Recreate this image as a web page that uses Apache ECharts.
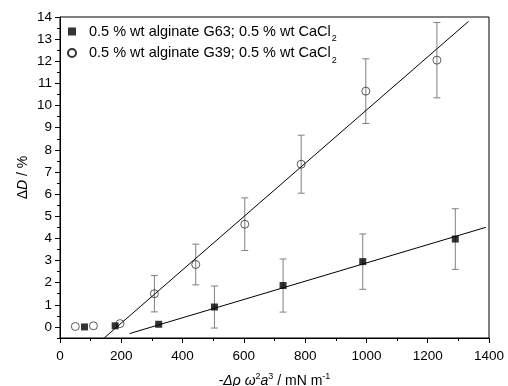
<!DOCTYPE html>
<html>
<head>
<meta charset="utf-8">
<script src="https://cdn.jsdelivr.net/npm/echarts@6/dist/echarts.min.js"></script>
<style>html,body{margin:0;padding:0;background:#fff;}#c{width:508px;height:386px;}</style>
</head>
<body>
<div id="c"></div>
<script>
// ---- data ----
const xG63 = [80, 180, 322, 504, 728, 988, 1290];
const yG63 = [0, 0.05, 0.12, 0.9, 1.87, 2.95, 3.97];
const errG63 = [0, 0, 0, 0.95, 1.2, 1.25, 1.37];

const xG39 = [50, 109, 196, 308, 443, 603, 787, 998, 1230];
const yG39 = [0.02, 0.05, 0.15, 1.5, 2.82, 4.64, 7.35, 10.65, 12.05];
const errG39 = [0, 0, 0, 0.82, 0.92, 1.19, 1.31, 1.46, 1.7];

// fitted straight lines (end points, data units)
const fitG39X = [144, 1333];
const fitG39Y = [-0.5, 13.8];
const fitG63X = [227, 1390];
const fitG63Y = [-0.3, 4.5];

const yTickValues = [0,1,2,3,4,5,6,7,8,9,10,11,12,13,14];
const nameG63 = 'G63';
const nameG39 = 'G39';
const legendText = {
  G63: '0.5 % wt alginate G63; 0.5 % wt CaCl',
  G39: '0.5 % wt alginate G39; 0.5 % wt CaCl'
};

const FONT = '"Liberation Sans", Arial, sans-serif';

function pairs(xs, ys) { return xs.map((x, i) => [x, ys[i]]); }
function errData(xs, ys, es) { return xs.map((x, i) => [x, ys[i] - es[i], ys[i] + es[i]]).filter((d, i) => es[i] > 0); }

function errRender(params, api) {
  const x = api.value(0);
  const lo = api.coord([x, api.value(1)]);
  const hi = api.coord([x, api.value(2)]);
  const cw = 3.5;
  const st = { stroke: '#808080', lineWidth: 1 };
  return {
    type: 'group',
    children: [
      { type: 'line', shape: { x1: lo[0], y1: lo[1], x2: hi[0], y2: hi[1] }, style: st },
      { type: 'line', shape: { x1: lo[0] - cw, y1: lo[1], x2: lo[0] + cw, y2: lo[1] }, style: st },
      { type: 'line', shape: { x1: hi[0] - cw, y1: hi[1], x2: hi[0] + cw, y2: hi[1] }, style: st }
    ]
  };
}

const chart = echarts.init(document.getElementById('c'), null, { renderer: 'canvas' });
chart.setOption({
  animation: false,
  backgroundColor: '#fff',
  textStyle: { fontFamily: FONT, color: '#000' },
  grid: { left: 60, right: 19, top: 17, bottom: 48, outerBoundsMode: 'none', containLabel: false, show: true, borderColor: '#000', borderWidth: 1, backgroundColor: 'transparent' },
  legend: {
    orient: 'vertical',
    left: 67,
    top: 24,
    padding: 0,
    itemWidth: 8,
    itemHeight: 8,
    itemGap: 2,
    data: [{ name: nameG63, icon: 'rect' }, { name: nameG39, icon: 'circle' }],
    formatter: function (n) { return '{t|' + legendText[n] + '}{s|2}'; },
    textStyle: {
      fontFamily: FONT,
      color: '#000',
      padding: [0, 0, 0, 8],
      rich: {
        t: { fontSize: 14.5, fontFamily: FONT, color: '#000', lineHeight: 16 },
        s: { fontSize: 9, fontFamily: FONT, color: '#000', verticalAlign: 'bottom', lineHeight: 12, padding: [0, 0, -4, 1] }
      }
    }
  },
  xAxis: {
    type: 'value',
    min: 0, max: 1400, interval: 200,
    splitLine: { show: false },
    axisLine: { show: true, onZero: false, lineStyle: { color: '#000', width: 1 } },
    axisTick: { show: true, length: 5, lineStyle: { color: '#000' } },
    minorTick: { show: true, splitNumber: 2, length: 3, lineStyle: { color: '#000' } },
    axisLabel: { color: '#000', fontSize: 13.5, fontFamily: FONT, margin: 11, formatter: function (v) { return String(v); } },
    name: '{n|-}{i|Δρ ω}{p|2}{i|a}{p|3}{n| / mN m}{p|-1}',
    nameLocation: 'middle',
    nameGap: 34,
    nameMoveOverlap: false,
    nameTextStyle: {
      rich: {
        n: { fontSize: 14, fontFamily: FONT, color: '#000', lineHeight: 18 },
        i: { fontSize: 14, fontFamily: FONT, color: '#000', fontStyle: 'italic', lineHeight: 18 },
        p: { fontSize: 9, fontFamily: FONT, color: '#000', verticalAlign: 'top', lineHeight: 6 }
      }
    }
  },
  yAxis: [{
    type: 'value',
    min: -0.5, max: 14,
    splitLine: { show: false },
    axisLine: { show: true, onZero: false, lineStyle: { color: '#000', width: 1 } },
    axisTick: { show: true, length: 5, customValues: yTickValues, lineStyle: { color: '#000' } },
    axisLabel: { color: '#000', fontSize: 13.5, fontFamily: FONT, margin: 8, customValues: yTickValues },
    name: '{n|Δ}{i|D}{n| / %}',
    nameLocation: 'middle',
    nameGap: 30,
    nameMoveOverlap: false,
    nameRotate: 90,
    nameTextStyle: {
      rich: {
        n: { fontSize: 14, fontFamily: FONT, color: '#000' },
        i: { fontSize: 14, fontFamily: FONT, color: '#000', fontStyle: 'italic' }
      }
    }
  }, {
    type: 'value',
    position: 'left',
    min: -0.5, max: 14, interval: 0.5,
    splitLine: { show: false },
    axisLine: { show: false },
    axisTick: { show: true, length: 3, lineStyle: { color: '#000' } },
    axisLabel: { show: false }
  }],
  series: [
    {
      type: 'custom', name: 'errG39', renderItem: errRender, z: 1,
      data: errData(xG39, yG39, errG39), silent: true
    },
    {
      type: 'custom', name: 'errG63', renderItem: errRender, z: 1,
      data: errData(xG63, yG63, errG63), silent: true
    },
    {
      type: 'line', name: 'fitG39', data: pairs(fitG39X, fitG39Y), showSymbol: false, symbol: 'none',
      lineStyle: { color: '#000', width: 1 }, z: 3, silent: true
    },
    {
      type: 'line', name: 'fitG63', data: pairs(fitG63X, fitG63Y), showSymbol: false, symbol: 'none',
      lineStyle: { color: '#000', width: 1 }, z: 3, silent: true
    },
    {
      type: 'scatter', name: nameG63, data: pairs(xG63, yG63), symbol: 'rect', symbolSize: 7,
      itemStyle: { color: '#000' }, z: 4
    },
    {
      type: 'scatter', name: nameG39, data: pairs(xG39, yG39), symbol: 'circle', symbolSize: 8,
      itemStyle: { color: 'rgba(255,255,255,0)', borderColor: '#000', borderWidth: 0.8 }, z: 4
    }
  ]
});
</script>
</body>
</html>
